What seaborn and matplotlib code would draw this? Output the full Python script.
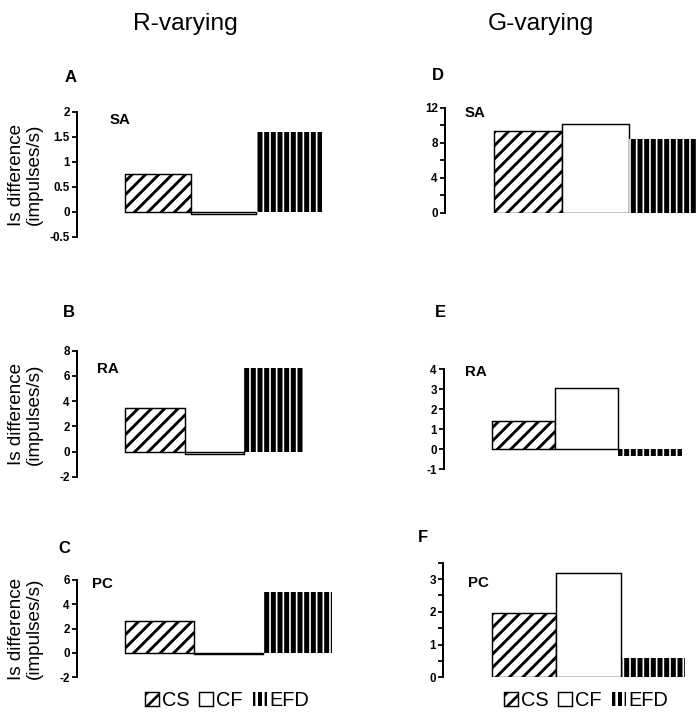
import numpy as np
import pandas as pd
import matplotlib
matplotlib.use('Agg')
import matplotlib.pyplot as plt
import seaborn as sns
from matplotlib.ticker import MultipleLocator, FuncFormatter

# ---------------- data ----------------
conditions = ['CS', 'CF', 'EFD']
sa_r = [0.75, -0.04, 1.60]
ra_r = [3.50, -0.15, 6.63]
pc_r = [2.58, -0.12, 4.98]
sa_g = [9.37, 10.14, 8.42]
ra_g = [1.43, 3.08, -0.32]
pc_g = [1.95, 3.19, 0.60]
column_titles = ['R-varying', 'G-varying']
panel_letters = ['A', 'B', 'C', 'D', 'E', 'F']
cell_labels = ['SA', 'RA', 'PC', 'SA', 'RA', 'PC']
ylabel_text = 'Is difference\n(impulses/s)'

# ---------------- style ----------------
sns.set_style('ticks')
plt.rcParams['font.family'] = ['Liberation Sans', 'DejaVu Sans']
plt.rcParams['font.weight'] = 'bold'
plt.rcParams['hatch.linewidth'] = 2.4
plt.rcParams['text.color'] = 'black'
plt.rcParams['axes.labelcolor'] = 'black'
plt.rcParams['axes.edgecolor'] = 'black'

W, H, DPI = 699, 720, 80
fig = plt.figure(figsize=(W / DPI, H / DPI), dpi=DPI)

# layout (pixels): spine x, bars left, bars right, top y, bottom y
layout = [
    dict(vals=sa_r, px=(77, 125, 322, 112, 237), ylim=(-0.5, 2), major=0.5, minor=None,
         letter=(65, 82), lab=(110, 124), ylab=True),
    dict(vals=ra_r, px=(77, 125, 304, 350.7, 477), ylim=(-2, 8), major=2, minor=None,
         letter=(63, 317), lab=(97, 373), ylab=True),
    dict(vals=pc_r, px=(77, 125, 332, 579.7, 677.3), ylim=(-2, 6), major=2, minor=None,
         letter=(58, 553), lab=(92, 588), ylab=True),
    dict(vals=sa_g, px=(445, 494, 697, 107.7, 212.7), ylim=(0, 12), major=4, minor=2,
         letter=(432, 80), lab=(465, 117), ylab=False),
    dict(vals=ra_g, px=(444, 491.7, 681.7, 369.3, 469.3), ylim=(-1, 4), major=1, minor=None,
         letter=(435, 317), lab=(465, 376), ylab=False),
    dict(vals=pc_g, px=(443, 491.7, 685, 562.7, 677.3), ylim=(0, 3.5), major=1, minor=0.5,
         letter=(418, 542), lab=(468, 587), ylab=False),
]

fmt = FuncFormatter(lambda v, p: f'{v:g}')
axes = []
for i, cfg in enumerate(layout):
    sx, bl, br, ty, by = cfg['px']
    ax = fig.add_axes([sx / W, 1 - by / H, (br - sx) / W, (by - ty) / H])
    axes.append(ax)
    df = pd.DataFrame({'cond': conditions, 'val': cfg['vals']})
    sns.barplot(data=df, x='cond', y='val', order=conditions, ax=ax, width=1.0,
                color='white', saturation=1, edgecolor='black', linewidth=1.3)
    bars = ax.patches
    # CS : diagonal hatch
    bars[0].set_hatch('//')
    if hasattr(bars[0], 'set_hatch_linewidth'):
        bars[0].set_hatch_linewidth(2.6)
    # EFD : black with thin white vertical stripes
    bars[2].set_facecolor('black')
    if hasattr(bars[2], 'set_hatchcolor'):
        bars[2].set_hatchcolor('white')
        bars[2].set_edgecolor('black')
    else:
        bars[2].set_edgecolor('white')
        bars[2].set_linewidth(0)
    bars[2].set_hatch('||')
    if hasattr(bars[2], 'set_hatch_linewidth'):
        bars[2].set_hatch_linewidth(1.5)

    bw = (br - bl) / 3.0
    ax.set_xlim(-0.5 - (bl - sx) / bw, 2.5)
    ax.set_ylim(*cfg['ylim'])
    ax.yaxis.set_major_locator(MultipleLocator(cfg['major']))
    if cfg['minor']:
        ax.yaxis.set_minor_locator(MultipleLocator(cfg['minor']))
    ax.yaxis.set_major_formatter(fmt)
    ax.set_xticks([])
    ax.set_xlabel('')
    ax.set_ylabel('')
    ax.set_facecolor('none')
    for s in ['top', 'right', 'bottom']:
        ax.spines[s].set_visible(False)
    ax.spines['left'].set_linewidth(1.8)
    ax.spines['left'].set_color('black')
    ax.tick_params(axis='y', which='both', direction='out', length=4.5, width=1.6,
                   labelsize=10.5, pad=2, colors='black')
    if cfg['ylab']:
        ax.set_ylabel(ylabel_text, fontsize=17, fontweight='normal', linespacing=1.05,
                      color='black')
        ax.yaxis.set_label_coords((43 - sx) / (br - sx), 0.5)
    lx, ly = cfg['letter']
    fig.text(lx / W, 1 - ly / H, panel_letters[i], fontsize=15, fontweight='bold',
             ha='left', va='baseline', color='black')
    cx, cy = cfg['lab']
    fig.text(cx / W, 1 - cy / H, cell_labels[i], fontsize=13.5, fontweight='bold',
             ha='left', va='baseline', color='black')

# column titles
fig.text(185 / W, 1 - 30 / H, column_titles[0], fontsize=22, fontweight='normal',
         ha='center', va='baseline', color='black')
fig.text(541 / W, 1 - 30 / H, column_titles[1], fontsize=22, fontweight='normal',
         ha='center', va='baseline', color='black')

# legends
for ax, cxl in [(axes[0], 227), (axes[3], 586)]:
    leg = fig.legend(handles=list(ax.patches[:3]), labels=conditions, ncol=3, loc='center',
                     bbox_to_anchor=(cxl / W, 1 - 700 / H), frameon=False,
                     prop={'size': 18, 'weight': 'normal'}, handlelength=0.7,
                     handleheight=0.7, handletextpad=0.15, columnspacing=0.5,
                     borderaxespad=0, borderpad=0)
    for t in leg.get_texts():
        t.set_color('black')

fig.savefig('out.png', dpi=DPI)
